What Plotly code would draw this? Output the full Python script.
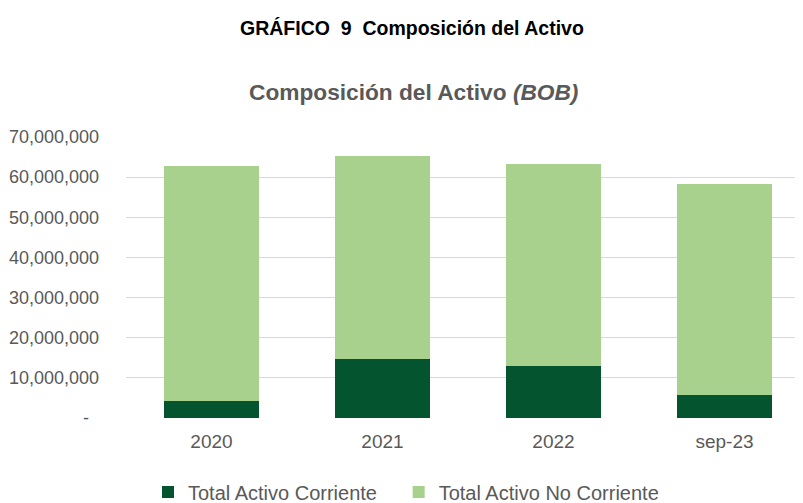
import plotly.graph_objects as go

categories = ["2020", "2021", "2022", "sep-23"]
activo_corriente = [4_150_000, 14_800_000, 12_950_000, 5_800_000]
activo_no_corriente = [58_750_000, 50_400_000, 50_250_000, 52_400_000]
y_tickvals = [0, 10_000_000, 20_000_000, 30_000_000, 40_000_000, 50_000_000, 60_000_000, 70_000_000]
y_ticktext = ["-\u00a0\u00a0", "10,000,000", "20,000,000", "30,000,000", "40,000,000",
              "50,000,000", "60,000,000", "70,000,000"]

DARK = "#04542F"
LIGHT = "#A9D18E"
GREY = "#595959"
FONT = "Liberation Sans, Arial, sans-serif"

W, H = 803, 503
OFF = 8  # page body margin offset
L = 126 - OFF
T = 136.5 - OFF
B = H - (417.7 - OFF)
R = 1
plot_w = W - L - R
plot_h = H - T - B


def px_x(x):
    return (x - OFF - L) / plot_w


def px_y(y):
    return (H - B - (y - OFF)) / plot_h


fig = go.Figure()
fig.add_trace(go.Bar(x=categories, y=activo_corriente,
                     name="Total Activo Corriente\u00a0\u00a0\u00a0",
                     marker=dict(color=DARK, line=dict(width=0)), width=0.555))
fig.add_trace(go.Bar(x=categories, y=activo_no_corriente, name="Total Activo No Corriente",
                     marker=dict(color=LIGHT, line=dict(width=0)), width=0.555))

fig.update_layout(
    width=W, height=H,
    barmode="stack",
    bargap=0,
    plot_bgcolor="white", paper_bgcolor="white",
    margin=dict(l=L, r=R, t=T, b=B, autoexpand=False),
    font=dict(family=FONT, color=GREY, size=18),
    showlegend=True,
    legend=dict(orientation="h", xref="container", yref="container",
                x=(406 - OFF) / W, xanchor="center", y=(H - (492 - OFF)) / H, yanchor="middle",
                font=dict(size=20, color=GREY, family=FONT),
                traceorder="normal", itemwidth=30,
                bgcolor="rgba(0,0,0,0)"),
    xaxis=dict(range=[-0.5, 3.5], showgrid=False, zeroline=False,
               showline=False, ticks="", tickfont=dict(size=19, color=GREY),
               ticklabelstandoff=10),
    yaxis=dict(range=[0, 70_000_000], tickvals=y_tickvals, ticktext=y_ticktext,
               showgrid=True, gridcolor="#D9D9D9", gridwidth=1, zeroline=False,
               showline=False, ticks="", tickfont=dict(size=18, color=GREY),
               ticklabelstandoff=26),
    annotations=[
        dict(text="<b>GRÁFICO\u00a0\u00a09\u00a0\u00a0Composición del Activo</b>",
             xref="paper", yref="paper", x=px_x(412), y=px_y(27),
             xanchor="center", yanchor="middle", showarrow=False,
             font=dict(family=FONT, size=19.5, color="#000000")),
        dict(text="<b>Composición del Activo <i>(BOB)</i></b>",
             xref="paper", yref="paper", x=px_x(413), y=px_y(91),
             xanchor="center", yanchor="middle", showarrow=False,
             font=dict(family=FONT, size=22.7, color=GREY)),
    ],
)

fig.write_html("out.html")
